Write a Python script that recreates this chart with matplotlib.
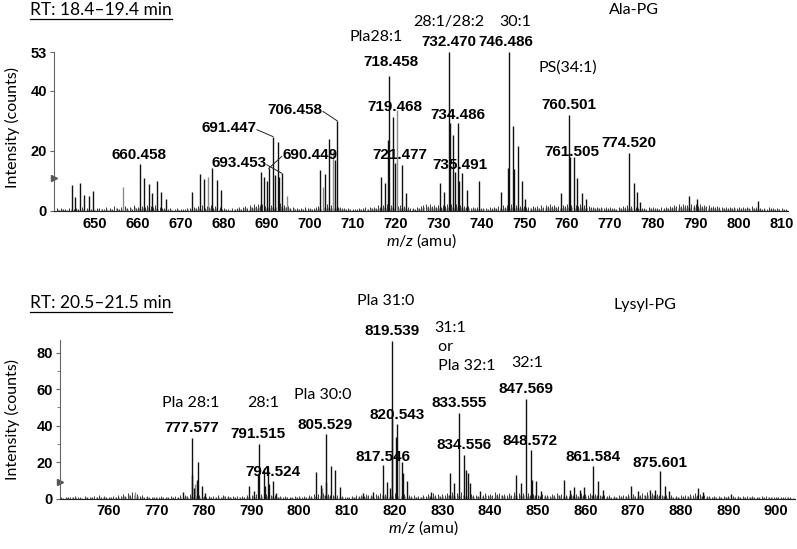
"""Two LC-MS spectra (Ala-PG and Lysyl-PG retention windows) with annotated peaks."""
import matplotlib
matplotlib.use("Agg")
import matplotlib.pyplot as plt
import numpy as np

plt.rcParams["font.family"] = ["Lato", "DejaVu Sans"]
plt.rcParams["mathtext.fontset"] = "custom"
plt.rcParams["mathtext.it"] = "Lato:italic"
plt.rcParams["mathtext.rm"] = "Lato"

# ---------------- top spectrum: RT 18.4-19.4 min (Ala-PG) ----------------
top_mz = [644.5, 645.3, 646.5, 647.4, 648.6, 649.4, 660.46, 661.4, 662.6, 663.3,
          664.3, 665.3, 666.5, 672.5, 674.5, 675.4, 677.3, 678.3, 679.3, 688.6,
          689.4, 690.1, 690.45, 691.45, 691.9, 692.5, 692.9, 693.45, 702.4, 703.6,
          704.6, 705.8, 706.46, 716.6, 717.6, 718.2, 718.46, 719.47, 720.0, 721.48,
          722.5, 730.4, 731.3, 732.47, 732.7, 733.4, 733.8, 734.49, 734.9, 735.49,
          736.6, 739.5, 744.5, 746.2, 746.49, 747.3, 747.7, 748.5, 749.4, 750.2,
          758.6, 760.50, 760.7, 761.5, 762.4, 763.4, 764.4, 774.52, 775.5, 776.4,
          776.9, 788.4, 790.2, 804.4]
top_int = [8.7, 4.8, 9.3, 5.3, 5.0, 6.8, 15.8, 11.0, 9.0, 6.0,
           10.0, 6.5, 4.0, 6.5, 12.3, 10.6, 14.2, 10.4, 7.0, 13.1,
           11.4, 10.0, 14.2, 24.8, 12.0, 23.1, 11.4, 12.6, 13.7, 12.5,
           24.0, 17.0, 30.0, 11.4, 9.2, 23.7, 45.0, 31.4, 16.0, 15.3,
           6.0, 9.2, 6.5, 53.0, 29.2, 25.3, 13.0, 29.4, 10.0, 12.6,
           7.0, 10.0, 6.5, 14.2, 53.0, 28.3, 14.0, 21.7, 10.0, 4.0,
           6.0, 32.0, 18.0, 18.0, 11.0, 6.0, 4.0, 19.2, 9.5, 6.5,
           3.0, 5.0, 4.0, 3.5]
top_gray_mz = [656.6, 676.4, 694.7, 703.2, 705.4, 720.3]
top_gray_int = [7.9, 11.4, 5.0, 8.0, 20.0, 33.7]

# baseline noise, 0.5 amu grid from 641.0
top_noise = [
    0.9, 0.5, 1.1, 0.6, 0.8, 0.5, 1.0, 0.7, 0.6, 0.9, 0.8, 0.4, 1.2, 0.6, 0.9, 0.5, 0.7, 1.0, 0.5, 0.9,
    1.1, 0.6, 0.8, 1.3, 0.5, 0.9, 0.7, 1.6, 1.0, 0.6, 1.2, 0.8, 1.8, 1.1, 1.4, 0.8, 2.0, 1.1, 1.5, 1.0,
    1.7, 1.2, 2.1, 1.0, 1.6, 1.3, 1.9, 0.9, 1.4, 1.1, 1.0, 0.6, 0.8, 1.1, 0.5, 0.8, 0.9, 0.5, 0.7, 0.8,
    0.6, 0.9, 1.1, 0.8, 1.4, 1.0, 1.7, 1.3, 2.0, 1.1, 1.7, 1.4, 2.0, 1.1, 1.6, 0.9, 1.4, 0.8, 1.1, 0.7,
    0.8, 0.5, 1.0, 0.7, 0.9, 1.2, 0.8, 1.4, 1.7, 1.1, 2.1, 1.4, 2.3, 1.7, 2.2, 1.9, 2.5, 1.6, 2.2, 1.8,
    2.0, 1.5, 2.4, 1.9, 2.6, 1.7, 2.1, 1.3, 1.6, 1.1, 1.4, 0.8, 1.1, 0.7, 1.0, 0.8, 1.2, 0.9, 1.1, 0.7,
    1.0, 1.3, 1.6, 1.1, 2.0, 1.4, 2.2, 1.7, 1.9, 1.4, 1.8, 1.5, 1.3, 1.0, 1.1, 0.8, 0.9, 0.6, 0.8, 0.7,
    0.8, 1.1, 0.6, 0.9, 1.2, 0.8, 1.4, 1.0, 1.5, 1.1, 1.9, 1.4, 2.1, 1.6, 2.3, 1.7, 2.0, 1.4, 2.2, 1.6,
    1.9, 1.4, 1.6, 1.1, 1.3, 0.9, 1.1, 0.8, 1.4, 1.0, 1.7, 2.0, 2.4, 1.8, 2.2, 1.7, 2.0, 1.5, 1.9, 1.4,
    2.0, 1.6, 2.3, 1.8, 2.4, 1.9, 2.2, 1.6, 2.0, 1.4, 1.7, 1.3, 1.6, 1.1, 1.4, 1.1, 1.3, 0.9, 1.1, 1.0,
    1.1, 0.8, 1.2, 0.9, 1.4, 1.1, 1.7, 1.2, 1.9, 1.4, 2.1, 1.6, 2.2, 1.7, 2.0, 1.5, 1.8, 1.4, 1.6, 1.2,
    1.4, 1.1, 1.7, 1.3, 1.6, 1.0, 1.9, 1.4, 2.0, 1.6, 2.2, 1.7, 2.0, 1.4, 1.8, 1.4, 2.0, 1.7, 2.3, 1.8,
    2.0, 1.5, 2.1, 1.7, 2.2, 1.6, 1.9, 1.4, 1.7, 1.2, 1.5, 1.1, 1.4, 1.0, 1.4, 1.1, 1.3, 0.9, 1.2, 1.0,
    1.1, 0.8, 1.4, 1.1, 1.6, 1.2, 1.9, 1.4, 1.7, 1.3, 1.5, 1.1, 1.3, 0.9, 1.1, 0.8, 1.4, 1.0, 1.2, 0.9,
    1.1, 0.8, 1.3, 1.0, 1.5, 1.1, 1.7, 1.4, 2.0, 1.7, 2.2, 1.8, 2.4, 1.9, 2.1, 1.7, 2.3, 2.0, 2.4, 1.8,
    2.2, 1.7, 2.0, 1.6, 1.9, 1.4, 1.7, 1.3, 1.6, 1.2, 1.4, 1.1, 1.3, 1.0, 1.4, 1.1, 1.5, 1.1, 1.3, 0.9,
    1.2, 0.9, 1.4, 1.0, 1.6, 1.1, 1.3, 0.9, 1.1, 0.8, 1.1, 0.8, 1.2, 0.9, 1.0, 0.7, 1.1, 0.8, 0.9, 0.7,
    0.8,
]

# ---------------- bottom spectrum: RT 20.5-21.5 min (Lysyl-PG) ----------------
bot_mz = [775.5, 777.4, 777.58, 778.0, 778.5, 778.7, 779.5, 780.3, 789.5, 790.4,
          791.3, 791.52, 792.6, 792.8, 793.5, 793.7, 794.55, 795.2, 803.5, 804.5,
          805.53, 805.7, 806.6, 807.5, 808.5, 813.4, 815.5, 817.55, 818.5, 819.0,
          819.4, 819.54, 820.3, 820.54, 821.6, 821.8, 822.5, 827.6, 831.6, 832.4,
          833.56, 834.56, 834.9, 835.3, 835.8, 838.0, 845.5, 846.5, 847.57, 848.57,
          848.9, 849.6, 850.7, 855.6, 856.7, 857.7, 858.9, 859.8, 861.58, 862.6,
          863.7, 869.6, 871.0, 873.5, 874.6, 875.6, 876.7, 877.6, 883.7, 884.8,
          890.6]
bot_int = [3.8, 12.9, 33.5, 6.0, 10.5, 19.9, 7.0, 3.0, 7.0, 4.0,
           13.0, 30.2, 16.6, 7.0, 17.5, 8.0, 9.7, 3.0, 14.6, 7.5,
           35.3, 9.0, 17.8, 15.7, 6.5, 3.0, 3.5, 18.4, 9.3, 6.0,
           43.9, 86.5, 34.0, 40.8, 20.2, 14.0, 9.8, 3.5, 13.9, 8.4,
           47.0, 23.9, 15.7, 13.9, 8.4, 4.0, 13.0, 8.4, 54.5, 26.6,
           10.0, 9.8, 4.0, 10.2, 5.0, 6.6, 5.0, 6.5, 17.8, 9.6,
           5.0, 6.9, 4.0, 5.0, 5.0, 15.1, 7.0, 4.0, 6.0, 3.5,
           2.5]
bot_gray_mz = [765.5, 778.2, 804.8, 821.0]
bot_gray_int = [3.5, 8.0, 6.0, 22.0]

# baseline noise, 0.5 amu grid from 750.0
bot_noise = [
    1.0, 0.6, 1.2, 0.8, 1.1, 0.7, 1.3, 0.9, 1.0, 0.6, 1.4, 0.8, 1.2, 0.7, 1.5, 1.0, 1.8, 1.1, 1.3, 0.8,
    1.2, 0.9, 1.6, 1.0, 1.9, 1.3, 2.4, 1.5, 3.2, 1.8, 3.6, 2.0, 2.6, 1.5, 1.9, 1.1, 1.4, 0.9, 1.2, 0.8,
    1.1, 0.7, 1.3, 0.9, 1.2, 0.8, 1.6, 1.0, 1.4, 0.9, 1.8, 1.2, 2.2, 1.5, 2.8, 1.7, 2.4, 1.4, 1.9, 1.2,
    1.6, 1.0, 1.3, 0.8, 1.5, 1.0, 1.9, 1.2, 2.1, 1.4, 1.7, 1.1, 1.5, 0.9, 1.3, 0.8, 1.6, 1.1, 1.9, 1.3,
    2.2, 1.5, 2.6, 1.8, 2.4, 1.6, 2.8, 1.9, 2.3, 1.5, 1.9, 1.2, 1.6, 1.0, 1.4, 0.9, 1.2, 0.8, 1.5, 1.0,
    1.3, 0.9, 1.7, 1.2, 2.0, 1.4, 2.5, 1.7, 2.8, 1.9, 3.2, 2.1, 2.6, 1.8, 2.2, 1.5, 1.8, 1.2, 1.5, 1.0,
    1.2, 0.8, 1.6, 1.1, 1.9, 1.3, 2.3, 1.5, 2.7, 1.8, 2.2, 1.5, 2.6, 1.8, 3.0, 2.1, 2.8, 1.9, 3.4, 2.3,
    3.1, 2.2, 2.8, 2.0, 2.4, 1.7, 2.0, 1.4, 1.8, 1.2, 1.6, 1.1, 2.0, 1.4, 2.4, 1.6, 2.9, 1.9, 2.5, 1.7,
    2.8, 2.0, 3.2, 2.3, 3.5, 2.5, 3.0, 2.2, 3.4, 2.4, 2.9, 2.0, 2.6, 1.8, 2.3, 1.6, 2.7, 1.9, 3.1, 2.2,
    2.8, 2.0, 3.4, 2.4, 3.0, 2.1, 2.6, 1.8, 3.2, 2.3, 3.6, 2.5, 3.0, 2.1, 3.3, 2.4, 2.9, 2.0, 2.5, 1.8,
    2.2, 1.6, 2.6, 1.9, 2.3, 1.6, 2.8, 2.0, 3.0, 2.1, 2.6, 1.8, 2.3, 1.6, 2.7, 1.9, 2.4, 1.7, 2.9, 2.0,
    2.6, 1.9, 3.1, 2.2, 2.7, 1.9, 2.3, 1.6, 2.0, 1.4, 1.8, 1.2, 1.6, 1.1, 1.9, 1.3, 2.2, 1.5, 2.6, 1.8,
    2.4, 1.7, 2.8, 2.0, 3.3, 2.3, 3.6, 2.5, 3.1, 2.2, 2.7, 1.9, 2.3, 1.6, 2.0, 1.4, 1.8, 1.2, 1.6, 1.1,
    1.9, 1.3, 2.2, 1.5, 2.6, 1.8, 2.9, 2.0, 2.4, 1.7, 2.0, 1.4, 1.7, 1.2, 1.5, 1.0, 1.3, 0.9, 1.6, 1.1,
    1.4, 1.0, 1.7, 1.2, 1.5, 1.0, 1.3, 0.9, 1.6, 1.1, 1.4, 1.0, 1.2, 0.8, 1.5, 1.0, 1.3, 0.9, 1.1, 0.8,
    1.2, 0.8, 1.0, 0.7, 1.1, 0.8, 0.9, 0.6, 1.0,
]

# peak labels: (text, x, y, peak m/z for a leader line or None), data coords
top_labels = [("660.458", 660.2, 18.7, None), ("691.447", 681.2, 27.6, 691.45),
              ("693.453", 683.5, 15.9, 693.45), ("690.449", 700.0, 18.7, 690.45),
              ("706.458", 696.6, 33.7, 706.46), ("718.458", 719.0, 49.7, None),
              ("719.468", 719.9, 34.8, None), ("721.477", 721.1, 18.7, None),
              ("732.470", 732.5, 56.4, None), ("734.486", 734.5, 32.0, None),
              ("735.491", 735.1, 15.3, None), ("746.486", 745.8, 56.4, None),
              ("760.501", 760.5, 35.3, None), ("761.505", 761.2, 19.8, None),
              ("774.520", 774.4, 22.7, None)]
top_notes = [("Pla28:1", 715.4, 58.0), ("28:1/28:2", 732.5, 63.1),
             ("30:1", 747.8, 63.1), ("PS(34:1)", 760.2, 47.7), ("Ala-PG", 775.6, 67.0)]

bot_labels = [("777.577", 777.5, 39.0), ("791.515", 791.4, 35.4), ("805.529", 805.5, 40.3),
              ("794.524", 794.4, 14.4), ("817.546", 817.5, 23.0), ("819.539", 819.4, 92.2),
              ("820.543", 820.5, 45.7), ("833.555", 833.5, 52.3), ("834.556", 834.5, 29.3),
              ("847.569", 847.5, 59.9), ("848.572", 848.4, 31.7), ("861.584", 861.6, 23.0),
              ("875.601", 875.6, 19.7)]
bot_notes = [("Pla 28:1", 777.3, 52.5), ("28:1", 792.4, 52.5), ("Pla 30:0", 805.0, 57.0),
             ("Pla 31:0", 818.2, 108.6), ("32:1", 847.8, 74.2), ("Lysyl-PG", 872.5, 106.4)]

W, H = 797, 549
TICK_FONT = dict(family="Liberation Sans", weight="bold", size=10.5)
LABEL_FONT = dict(family="Liberation Sans", weight="bold", size=11)
NOTE_SIZE = 11.5


def fx(px):
    return px / W


def fy(py):
    return 1 - py / H


def spectrum(ax, mz, inten, gmz, gint, noise, noise_start):
    noise_mz = noise_start + 0.5 * np.arange(len(noise))
    ax.vlines(noise_mz, 0, noise, color="#3a3a3a", lw=0.7)
    ax.vlines(noise_mz + 0.25, 0, np.array(noise) * 0.6, color="#8a8a8a", lw=0.6)
    ax.vlines(gmz, 0, gint, color="#8a8a8a", lw=1.0)
    ax.vlines(mz, 0, inten, color="#111111", lw=1.0)
    for s in ("top", "right"):
        ax.spines[s].set_visible(False)
    ax.spines["left"].set_color("#666666")
    ax.spines["bottom"].set_color("#222222")
    ax.spines["left"].set_linewidth(0.8)
    ax.spines["bottom"].set_linewidth(0.8)
    ax.tick_params(axis="x", length=0, pad=4)
    ax.tick_params(axis="y", length=3, color="#666666", pad=2)
    for lab in ax.get_xticklabels() + ax.get_yticklabels():
        lab.set_fontproperties(TICK_FONT)


fig = plt.figure(figsize=(W / 100, H / 100), dpi=100)

# top panel
ax1 = fig.add_axes([fx(54), fy(211), fx(788) - fx(54), fy(52) - fy(211)])
ax1.set_xlim(640.4, 811.5)
ax1.set_ylim(0, 53)
ax1.set_xticks(np.arange(650, 811, 10))
ax1.set_yticks([0, 20, 40, 53])
spectrum(ax1, top_mz, top_int, top_gray_mz, top_gray_int, top_noise, 641.0)
ax1.plot(640.4, 11, marker=">", color="#555555", ms=5, clip_on=False)
peak_h = dict(zip(top_mz, top_int))
for txt, x, y, lead in top_labels:
    ax1.text(x, y, txt, ha="center", va="center", **LABEL_FONT)
for txt, x, y, lead in top_labels:
    if lead is None:
        continue
    ph = peak_h[lead]
    if lead > x:
        sx = x + 6.5
    else:
        sx = x - 6.5
    ax1.plot([sx, lead], [y - 0.5, ph], color="#222222", lw=0.7, clip_on=False)
for txt, x, y in top_notes:
    ax1.text(x, y, txt, ha="center", va="center", fontsize=NOTE_SIZE)

# bottom panel
ax2 = fig.add_axes([fx(60), fy(498.7), fx(795) - fx(60), fy(340) - fy(498.7)])
ax2.set_xlim(749.8, 904)
ax2.set_ylim(0, 87)
ax2.set_xticks(np.arange(760, 901, 10))
ax2.set_yticks([0, 20, 40, 60, 80])
ax2.set_yticks([10, 30, 50, 70], minor=True)
ax2.tick_params(axis="y", which="minor", length=2, color="#666666")
spectrum(ax2, bot_mz, bot_int, bot_gray_mz, bot_gray_int, bot_noise, 750.0)
ax2.plot(749.8, 9, marker=">", color="#555555", ms=5, clip_on=False)
for txt, x, y in bot_labels:
    ax2.text(x, y, txt, ha="center", va="center", **LABEL_FONT)
for txt, x, y in bot_notes:
    ax2.text(x, y, txt, ha="center", va="center", fontsize=NOTE_SIZE)
ax2.text(828.3, 83.4, "31:1\n or\n Pla 32:1", ha="left", va="center",
         fontsize=NOTE_SIZE, linespacing=1.45)

# axis labels
for py in (128, 420):
    fig.text(fx(12), fy(py), "Intensity (counts)", rotation=90, ha="center",
             va="center", fontsize=11.5)
fig.text(fx(421), fy(241), "$m/z$ (amu)", ha="center", va="center", fontsize=11.5)
fig.text(fx(423), fy(528), "$m/z$ (amu)", ha="center", va="center", fontsize=11.5)

# retention-time headers, underlined
rt_texts = [fig.text(fx(30), fy(10), "RT: 18.4\u201319.4 min", ha="left", va="center", fontsize=12.5),
            fig.text(fx(30), fy(303), "RT: 20.5\u201321.5 min", ha="left", va="center", fontsize=12.5)]
fig.canvas.draw()
for t in rt_texts:
    bb = t.get_window_extent()
    yl = (bb.y0 - 0.5) / H
    fig.add_artist(plt.Line2D([bb.x0 / W, bb.x1 / W], [yl, yl], color="black", lw=0.9))

fig.savefig("out.png", dpi=100)
